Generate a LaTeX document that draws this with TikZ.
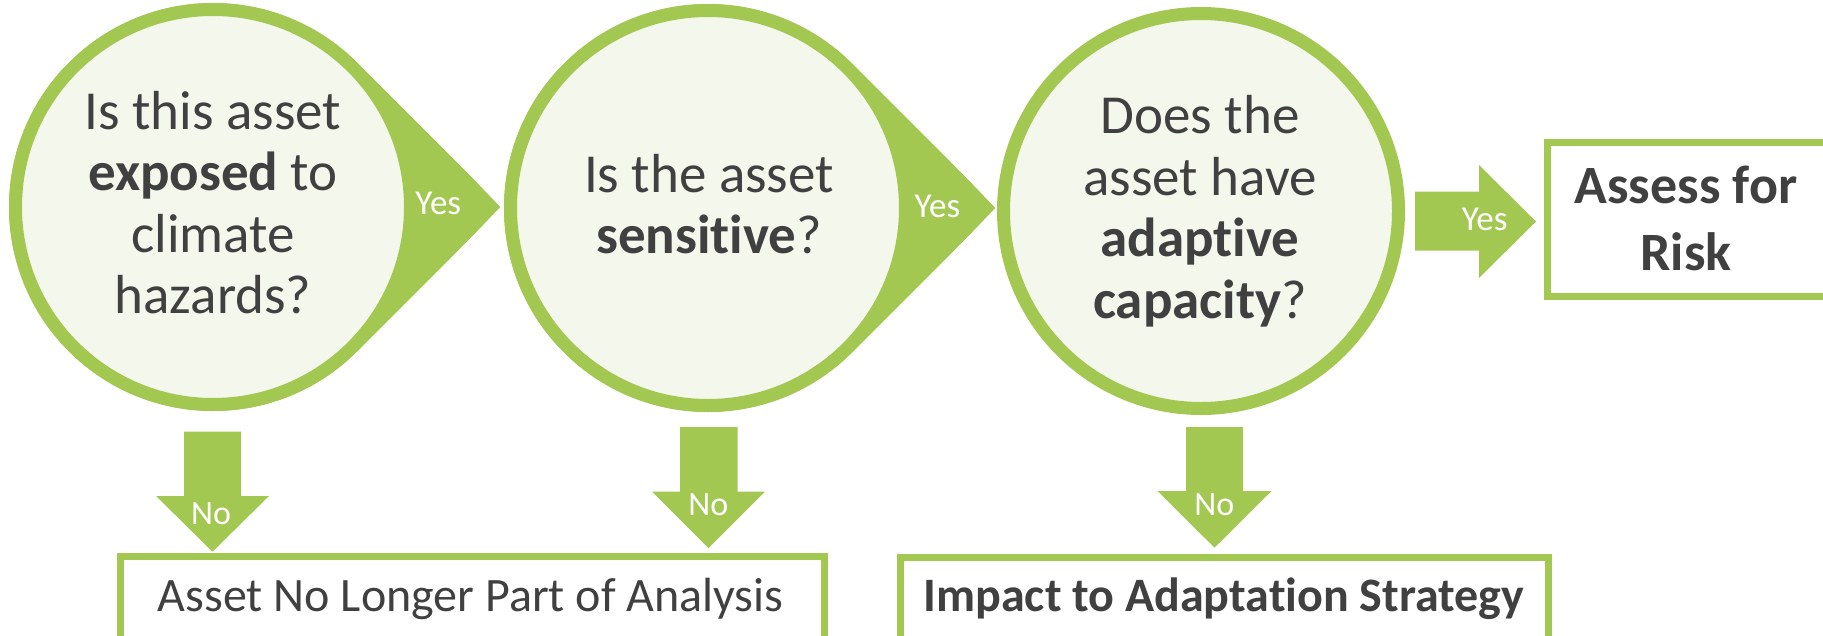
\documentclass[tikz,border=0pt]{standalone}
\usepackage{fontspec}
\setmainfont[Ligatures={NoCommon}]{Carlito}
\usetikzlibrary{calc}
\definecolor{leaf}{HTML}{A2C852}
\definecolor{pale}{HTML}{F3F7EC}
\definecolor{ink}{HTML}{404040}
\begin{document}
\begin{tikzpicture}[x=1pt,y=-1pt,
  qcircle/.style={circle, draw=leaf, line width=13pt, fill=pale, minimum size=395pt, inner sep=0pt},
  qtext/.style={text=ink, align=center, inner sep=0pt, font=\fontsize{55}{61.5}\selectfont},
  yeslbl/.style={text=white, inner sep=0pt, font=\fontsize{35}{40}\selectfont},
  nolbl/.style={text=white, inner sep=0pt, font=\fontsize{34}{40}\selectfont},
  outbox/.style={draw=leaf, line width=7pt, fill=white},
  boxtext/.style={text=ink, inner sep=0pt, font=\fontsize{48}{58}\selectfont},
  blockarrow/.style={fill=leaf},
  tipline/.style={draw=white, line width=1.5pt},
]
\useasboundingbox (0,0) rectangle (1823,635);

% centres and tips
\coordinate (c1) at (213,207);
\coordinate (c2) at (708,208);
\coordinate (c3) at (1201,211);
\coordinate (t1) at (501.5,207);
\coordinate (t2) at (996.5,208);

% circle 3
\node[qcircle] (q3) at (c3) {};
\node[qtext] (q3t) at (1200,211) {Does the\\asset have\\\textbf{adaptive}\\\textbf{capacity}?};

% circle 2 (teardrop)
\fill[leaf] (t2) -- ($(c2)+(45:204)$) arc[start angle=45, end angle=315, radius=204] -- cycle;
\path[tipline] ($(c2)+(40:209)$) -- (t2) -- ($(c2)+(-40:209)$);
\node[qcircle] (q2) at (c2) {};
\node[qtext] (q2t) at (709,204) {Is the asset\\\textbf{sensitive}?};
\node[yeslbl] (yes2) at (937.5,206) {Yes};

% circle 1 (teardrop)
\fill[leaf] (t1) -- ($(c1)+(45:204)$) arc[start angle=45, end angle=315, radius=204] -- cycle;
\path[tipline] ($(c1)+(40:209)$) -- (t1) -- ($(c1)+(-40:209)$);
\node[qcircle] (q1) at (c1) {};
\node[qtext] (q1t) at (213,202.5) {Is this asset\\\textbf{exposed} to\\climate\\hazards?};
\node[yeslbl] (yes1) at (438.3,203) {Yes};

% right arrow to "Assess for Risk"
\fill[blockarrow] (1415,191.7) -- (1479,191.7) -- (1479,165) -- (1536,221.5) -- (1479,278) -- (1479,250.5) -- (1415,250.5) -- cycle;
\node[yeslbl] (yes3) at (1484.7,219) {Yes};

% Assess for Risk box
\draw[outbox] (1547.5,142.5) rectangle (1840,296.5);
\node[text=ink, align=center, inner sep=0pt, font=\fontsize{54}{67}\selectfont\bfseries] (risk) at (1686,218) {Assess for\\Risk};

% down arrows
\fill[blockarrow] (184,431.7) -- (241,431.7) -- (241,496) -- (269,496) -- (212.5,551.7) -- (156,496) -- (184,496) -- cycle;
\node[nolbl] (no1) at (211,513.3) {No};
\fill[blockarrow] (680,427) -- (737.5,427) -- (737.5,491.7) -- (765,491.7) -- (708.5,548) -- (652,491.7) -- (680,491.7) -- cycle;
\node[nolbl] (no2) at (708.3,505) {No};
\fill[blockarrow] (1186,427) -- (1243,427) -- (1243,491) -- (1271.5,491) -- (1214.5,547.7) -- (1157.5,491) -- (1186,491) -- cycle;
\node[nolbl] (no3) at (1214.3,505) {No};

% bottom boxes
\draw[outbox] (120.2,556.8) rectangle (824.5,660);
\node[boxtext, anchor=base] (drop) at (470.7,611.7) {Asset No Longer Part of Analysis};
\draw[outbox] (900.5,557.5) rectangle (1548.5,660);
\node[boxtext, anchor=base, font=\fontsize{48}{58}\selectfont\bfseries] (adapt) at (1223.8,611.7) {Impact to Adaptation Strategy};
\end{tikzpicture}
\end{document}
